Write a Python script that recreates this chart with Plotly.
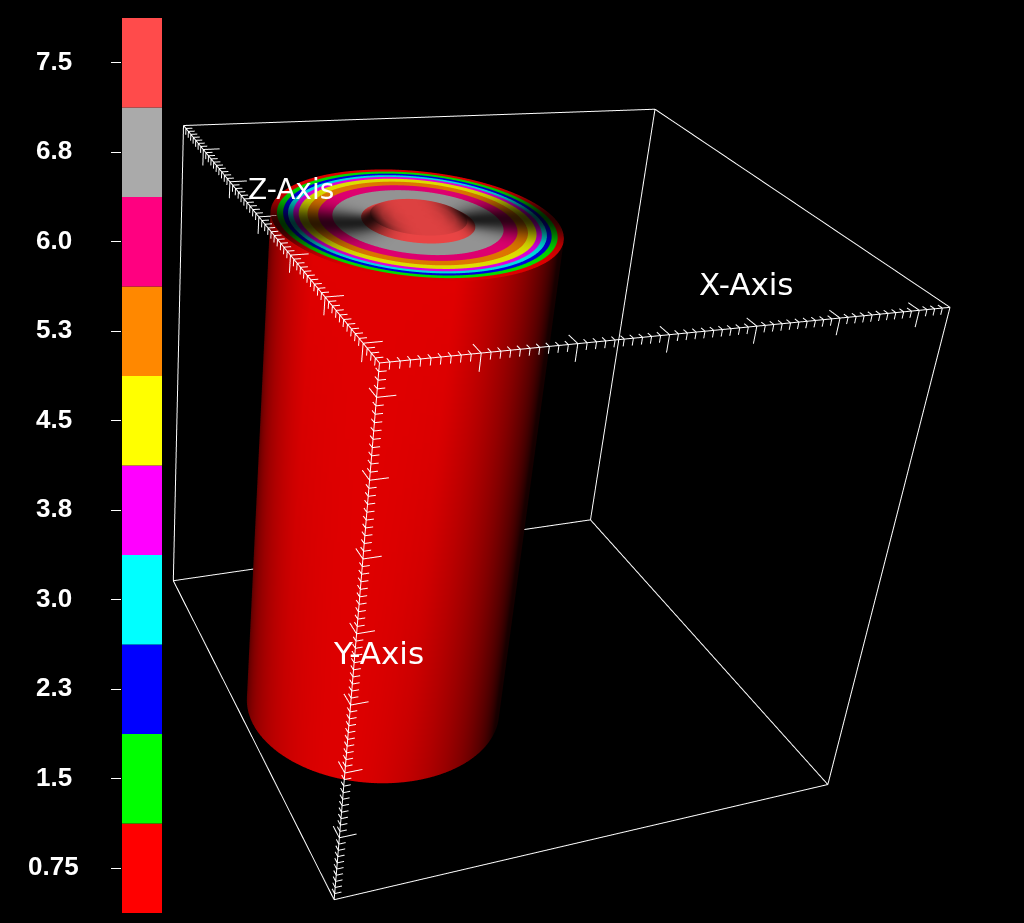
import numpy as np
import plotly.graph_objects as go

# colour bar
CBAR_LABELS = ["0.75", "1.5", "2.3", "3.0", "3.8", "4.5", "5.3", "6.0", "6.8", "7.5"]
CBAR_COLORS = ["#ff0000", "#00ff00", "#0000ff", "#00ffff", "#ff00ff", "#ffff00", "#ff8800", "#ff0080", "#aaaaaa", "#ff4b4b"]
CBAR_SIZES = [1] * 10
# cylinder (unit-cube coordinates, axis along Y)
CYL_X, CYL_Z = -0.2412, -0.0106
CYL_Y_TOP, CYL_Y_BOTTOM = -0.5, 0.5
RING_RADII = [0.2455, 0.2349, 0.2248, 0.2167, 0.2082, 0.1992, 0.1847, 0.1671, 0.1435, 0.0958]
# axis ticks
X_UNITS, Y_UNITS, Z_UNITS = 64, 74, 62
X_PHASE, Y_PHASE, Z_PHASE = 0, 4, 4
AXIS_TITLES = ["X-Axis", "Y-Axis", "Z-Axis"]

W, H = 1024, 923
TITLE_X = [746, 378, 291]
TITLE_Y = [284, 653, 189]
TITLE_SIZE = [31, 31, 28]
# camera (VTK-like 30 degree view); plotly has a fixed 45 degree lens, so depth is compressed along the view axis
FOCAL = 1737.9
EYE = np.array([-1.363, -1.5662, -2.5112])
UP = np.array([-0.4539, -7.3975, 1.0088])
k = FOCAL / (H / (2 * np.tan(np.pi / 8)))
f = -EYE / np.linalg.norm(EYE)
s = np.cross(f, UP); s /= np.linalg.norm(s)
u = np.cross(s, f)
d0 = np.linalg.norm(EYE) / k


def warp(P):
    d = np.asarray(P, float) - EYE
    return np.outer(d @ s, s) + np.outer(d @ u, u) + np.outer(d @ f / k - d0, f)


N = 128
TH = np.linspace(0, 2 * np.pi, N, endpoint=False)


def rgb(hexc, I):
    h = hexc.lstrip("#")
    c = [int(h[i:i + 2], 16) for i in (0, 2, 4)]
    return [f"rgb({int(c[0]*v)},{int(c[1]*v)},{int(c[2]*v)})" for v in I]


def mesh(P, cols, i, j, kk):
    Q = warp(P)
    return go.Mesh3d(x=Q[:, 0], y=Q[:, 1], z=Q[:, 2], i=i, j=j, k=kk, vertexcolor=cols,
                     lighting=dict(ambient=1, diffuse=0, specular=0, roughness=1, fresnel=0),
                     hoverinfo="skip", showscale=False)


def band(r0, y0, r1, y1):
    P = np.r_[np.c_[CYL_X + r0 * np.cos(TH), np.full(N, y0), CYL_Z + r0 * np.sin(TH)],
              np.c_[CYL_X + r1 * np.cos(TH), np.full(N, y1), CYL_Z + r1 * np.sin(TH)]]
    a = np.arange(N); b = (a + 1) % N
    return P, np.r_[a, b], np.r_[b, b + N], np.r_[a + N, a + N]


fig = go.Figure()
# outer wall
P, i, j, kk = band(RING_RADII[0], CYL_Y_TOP, RING_RADII[0], CYL_Y_BOTTOM)
light = EYE - s * 0.6
n = np.c_[np.cos(np.r_[TH, TH]), np.zeros(2 * N), np.sin(np.r_[TH, TH])]
L = light - P; L /= np.linalg.norm(L, axis=1)[:, None]
dot = np.clip((n * L).sum(1), 0, 1)
fig.add_trace(mesh(P, rgb(CBAR_COLORS[0], 0.88 * (0.1 + 0.9 * np.minimum(dot / 0.8, 1) ** 0.9)), i, j, kk))
# cap rings
t0 = np.arctan2(s[2], s[0]) + np.deg2rad(20)
cc = np.abs(np.cos(TH - t0))
for m in range(len(RING_RADII) - 1):
    P, i, j, kk = band(RING_RADII[m], CYL_Y_TOP, RING_RADII[m + 1], CYL_Y_TOP)
    I = 0.87 * (1 - 0.8 * cc ** 10)
    fig.add_trace(mesh(P, rgb(CBAR_COLORS[m], np.r_[I, I]), i, j, kk))
# innermost disc with its raised rim
rc = RING_RADII[-1]
INNER, RAISE = 0.85, 0.008
P, i, j, kk = band(rc, CYL_Y_TOP, rc * INNER, CYL_Y_TOP - RAISE)
Ia = 0.92 * (1 - 0.85 * cc ** 6)
fig.add_trace(mesh(P, rgb(CBAR_COLORS[9], np.r_[Ia, Ia]), i, j, kk))
for a, b in zip([1, .75, .5, .25], [.75, .5, .25, 0.001]):
    P, i, j, kk = band(rc * INNER * a, CYL_Y_TOP - RAISE, rc * INNER * b, CYL_Y_TOP - RAISE)
    I0 = 0.87 * (1 - 0.85 * (a * cc) ** 3.5); I1 = 0.87 * (1 - 0.85 * (b * cc) ** 3.5)
    fig.add_trace(mesh(P, rgb(CBAR_COLORS[9], np.r_[I0, I1]), i, j, kk))
# box
C = [-.5, .5]
segs = []
for a in C:
    for b in C:
        segs += [[(C[0], a, b), (C[1], a, b)], [(a, C[0], b), (a, C[1], b)], [(a, b, C[0]), (a, b, C[1])]]
# ticks
MINOR, MAJOR = 0.012, 0.03
for axis, units, ph in [(0, X_UNITS, X_PHASE), (1, Y_UNITS, Y_PHASE), (2, Z_UNITS, Z_PHASE)]:
    others = [o for o in range(3) if o != axis]
    for nn in range(1, units):
        ln = MAJOR if nn % 10 == ph else MINOR
        p = np.array([-.5, -.5, -.5]); p[axis] = -.5 + nn / units
        for o in others:
            q = p.copy(); q[o] += ln
            segs.append([tuple(p), tuple(q)])
xs, ys, zs = [], [], []
for a, b in segs:
    Q = warp([a, b])
    xs += [Q[0, 0], Q[1, 0], None]; ys += [Q[0, 1], Q[1, 1], None]; zs += [Q[0, 2], Q[1, 2], None]
fig.add_trace(go.Scatter3d(x=xs, y=ys, z=zs, mode="lines", line=dict(color="white", width=2), hoverinfo="skip", showlegend=False))
# colour bar
for m, (c, v) in enumerate(zip(CBAR_COLORS, CBAR_SIZES)):
    fig.add_trace(go.Bar(x=[v], y=[m], orientation="h", width=1, marker=dict(color=c, line=dict(width=0)), showlegend=False, hoverinfo="skip"))
eye = -d0 * f / 2
ax = dict(visible=False, range=[-1, 1], autorange=False)
fig.update_layout(
    width=W, height=H, margin=dict(l=0, r=0, t=0, b=0), paper_bgcolor="black", plot_bgcolor="black", showlegend=False, barmode="overlay",
    xaxis=dict(domain=[122 / W, 162 / W], range=[0, 1], visible=False),
    yaxis=dict(domain=[1 - 913 / H, 1 - 18 / H], range=[-.5, 9.5], tickmode="array", tickvals=list(range(10)), ticktext=[""] * 10,
               ticks="outside", ticklen=10, tickcolor="white", tickwidth=1, showgrid=False, zeroline=False, showline=False),
    scene=dict(domain=dict(x=[0, 1], y=[0, 1]), xaxis=ax, yaxis=ax, zaxis=ax, aspectmode="manual", aspectratio=dict(x=1, y=1, z=1), bgcolor="rgba(0,0,0,0)",
               camera=dict(eye=dict(x=eye[0], y=eye[1], z=eye[2]), center=dict(x=0, y=0, z=0), up=dict(x=u[0], y=u[1], z=u[2]), projection=dict(type="perspective"))))
for m, t in enumerate(CBAR_LABELS):
    fig.add_annotation(text=t, xref="paper", yref="y", x=53.5 / W, y=m, yshift=2, showarrow=False, xanchor="center", yanchor="middle",
                       font=dict(family="Liberation Sans", size=26, color="white", weight="bold"))
for t, xp, yp, sz in zip(AXIS_TITLES, TITLE_X, TITLE_Y, TITLE_SIZE):
    fig.add_annotation(text=t, xref="paper", yref="paper", x=xp / W, y=1 - yp / H, showarrow=False, xanchor="center", yanchor="middle",
                       font=dict(family="DejaVu Sans", size=sz, color="white"))
fig.write_html("out.html", config=dict(displayModeBar=False),
               post_script="document.body.style.margin='0';document.documentElement.style.overflow='hidden';document.documentElement.style.background='black';")
